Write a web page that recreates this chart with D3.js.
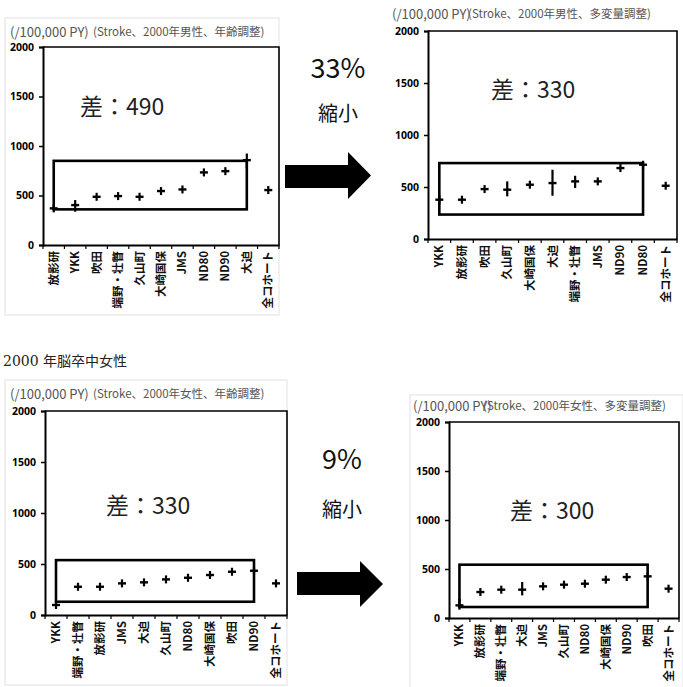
<!DOCTYPE html>
<html>
<head>
<meta charset="utf-8">
<script src="https://cdn.jsdelivr.net/npm/d3@7"></script>
<style>
  body { margin: 0; background: #fff; }
  svg text { font-family: "Noto Sans CJK JP", "Noto Sans", sans-serif; }
  svg .ytick text { font-family: "Noto Sans", "Liberation Sans", sans-serif; font-weight: 700; font-size: 10.5px; }
</style>
</head>
<body>
<svg id="chart"></svg>
<script>
// data
let yTicks = [0, 500, 1000, 1500, 2000];

// 男性 年齢調整
let cats1 = ["放影研", "YKK", "吹田", "端野・壮瞥", "久山町", "大崎国保", "JMS", "ND80", "ND90", "大迫", "全コホート"];
let vals1 = [370, 403, 487, 494, 487, 545, 561, 733, 746, 857, 555];
let lo1   = [370, 336, 487, 494, 487, 545, 561, 733, 746, 773, 555];
let hi1   = [370, 454, 487, 494, 487, 545, 561, 733, 746, 924, 555];
let box1  = [360, 850];

// 男性 多変量調整
let cats2 = ["YKK", "放影研", "吹田", "久山町", "大崎国保", "大迫", "端野・壮瞥", "JMS", "ND90", "ND80", "全コホート"];
let vals2 = [378, 378, 480, 474, 522, 538, 554, 554, 682, 714, 512];
let lo2   = [330, 378, 480, 410, 522, 416, 490, 554, 682, 666, 512];
let hi2   = [426, 378, 480, 554, 522, 666, 608, 554, 682, 746, 512];
let box2  = [235, 730];

// 女性 年齢調整
let cats3 = ["YKK", "端野・壮瞥", "放影研", "JMS", "大迫", "久山町", "ND80", "大崎国保", "吹田", "ND90", "全コホート"];
let vals3 = [98, 277, 277, 310, 320, 349, 365, 392, 424, 434, 310];
let lo3   = vals3;
let hi3   = vals3;
let box3  = [130, 538];

// 女性 多変量調整
let cats4 = ["YKK", "放影研", "端野・壮瞥", "大迫", "JMS", "久山町", "ND80", "大崎国保", "ND90", "吹田", "全コホート"];
let vals4 = [129, 265, 289, 289, 323, 340, 350, 391, 418, 425, 299];
let lo4   = [85, 265, 289, 231, 323, 340, 350, 391, 418, 425, 299];
let hi4   = [197, 265, 289, 367, 323, 340, 350, 391, 418, 425, 299];
let box4  = [112, 544];

let svg = d3.select("#chart").attr("width", 683).attr("height", 687);

function panel(p) {
  let x = d3.scaleBand().domain(p.cats).range([p.left, p.right]);
  let y = d3.scaleLinear().domain([0, 2000]).range([p.bottom, p.top]);
  let g = svg.append("g");

  // faint outer frame
  if (p.frame) {
    g.append("rect")
      .attr("x", p.frame[0]).attr("y", p.frame[1])
      .attr("width", p.frame[2] - p.frame[0]).attr("height", p.frame[3] - p.frame[1])
      .attr("fill", "none").attr("stroke", "#e2e2e2").attr("stroke-width", 1);
  }

  // plot area border (top and right)
  g.append("path")
    .attr("d", `M${p.left},${p.top}H${p.right}V${p.bottom}`)
    .attr("fill", "none").attr("stroke", "#000").attr("stroke-width", 1.6);

  // y axis
  let ya = g.append("g")
    .attr("class", "ytick")
    .attr("transform", `translate(${p.left},0)`)
    .call(d3.axisLeft(y).tickValues(yTicks).tickFormat(d3.format("d")).tickSize(4).tickPadding(5));
  ya.select(".domain").attr("stroke-width", 2);
  ya.selectAll("line").attr("stroke-width", 1.5);
  ya.selectAll("text").attr("fill", "#000");

  // x axis
  let xa = g.append("g")
    .attr("transform", `translate(0,${p.bottom})`)
    .call(d3.axisBottom(x).tickSize(0));
  xa.select(".domain").attr("stroke-width", 2);
  xa.selectAll(".tick text")
    .attr("transform", "rotate(-90)")
    .attr("text-anchor", "end")
    .attr("x", -6).attr("y", 0).attr("dy", "0.35em")
    .style("font-size", "11.5px").style("font-weight", "bold").attr("fill", "#111");
  // boundary ticks between categories
  g.selectAll(".bt").data(d3.range(p.cats.length + 1)).join("line")
    .attr("x1", i => p.left + i * x.bandwidth())
    .attr("x2", i => p.left + i * x.bandwidth())
    .attr("y1", p.bottom).attr("y2", p.bottom + 4)
    .attr("stroke", "#000").attr("stroke-width", 1.2);

  // box
  let cx = c => x(c) + x.bandwidth() / 2;
  g.append("rect")
    .attr("x", cx(p.cats[0])).attr("y", y(p.box[1]))
    .attr("width", cx(p.cats[9]) - cx(p.cats[0]))
    .attr("height", y(p.box[0]) - y(p.box[1]))
    .attr("fill", "none").attr("stroke", "#000").attr("stroke-width", 2.6);

  // crosses
  let pts = p.cats.map((c, i) => ({ c: c, v: p.vals[i], lo: p.lo[i], hi: p.hi[i] }));
  let mk = g.selectAll(".pt").data(pts).join("g");
  mk.append("line")
    .attr("x1", d => cx(d.c) - 4).attr("x2", d => cx(d.c) + 4)
    .attr("y1", d => y(d.v)).attr("y2", d => y(d.v))
    .attr("stroke", "#000").attr("stroke-width", 2.4);
  mk.append("line")
    .attr("x1", d => cx(d.c)).attr("x2", d => cx(d.c))
    .attr("y1", d => Math.min(y(d.hi), y(d.v) - 4))
    .attr("y2", d => Math.max(y(d.lo), y(d.v) + 4))
    .attr("stroke", "#000").attr("stroke-width", 2.2);

  // titles
  g.append("text").attr("x", p.unitX).attr("y", p.titleY)
    .style("font-size", "13px").attr("fill", "#555").text("(/100,000 PY)");
  g.append("text").attr("x", p.subX).attr("y", p.titleY - 1)
    .style("font-size", "11.5px").attr("fill", "#555").text(p.sub);

  // difference label
  g.append("text").attr("x", p.diffX).attr("y", p.diffY)
    .style("font-size", "23px").attr("fill", "#222").text(p.diff);
}

panel({ cats: cats1, vals: vals1, lo: lo1, hi: hi1, box: box1,
  left: 43, right: 279, top: 47, bottom: 245, frame: [5, 18, 279, 315],
  unitX: 10, subX: 93, titleY: 37, sub: "(Stroke、2000年男性、年齢調整)",
  diff: "差：490", diffX: 80, diffY: 115 });

panel({ cats: cats2, vals: vals2, lo: lo2, hi: hi2, box: box2,
  left: 428, right: 677, top: 31, bottom: 239, frame: null,
  unitX: 392, subX: 468, titleY: 19, sub: "(Stroke、2000年男性、多変量調整)",
  diff: "差：330", diffX: 491, diffY: 98 });

panel({ cats: cats3, vals: vals3, lo: lo3, hi: hi3, box: box3,
  left: 45, right: 287, top: 411, bottom: 615, frame: [5, 380, 287, 685],
  unitX: 10, subX: 93, titleY: 399, sub: "(Stroke、2000年女性、年齢調整)",
  diff: "差：330", diffX: 106, diffY: 514 });

panel({ cats: cats4, vals: vals4, lo: lo4, hi: hi4, box: box4,
  left: 449, right: 679, top: 422, bottom: 618, frame: [410, 395, 683, 690],
  unitX: 413, subX: 483, titleY: 411, sub: "(Stroke、2000年女性、多変量調整)",
  diff: "差：300", diffX: 510, diffY: 519 });

// heading of the lower row
svg.append("text").attr("x", 3).attr("y", 366)
  .style("font-family", "'DejaVu Serif', 'Noto Sans CJK JP', serif")
  .style("font-size", "14px").attr("fill", "#222").text("2000 年脳卒中女性");

// arrows with reduction labels
let arrows = [
  { pct: "33%", pctY: 78, wordY: 121, cx: 338, x0: 285, x1: 348, x2: 371, sy0: 165, sy1: 188, hy0: 152, hy1: 199 },
  { pct: "9%", pctY: 469, wordY: 517, cx: 342, x0: 297, x1: 360, x2: 383, sy0: 572, sy1: 595, hy0: 561, hy1: 607 }
];
arrows.forEach(a => {
  let mid = (a.hy0 + a.hy1) / 2;
  let path = d3.path();
  path.moveTo(a.x0, a.sy0);
  path.lineTo(a.x1, a.sy0);
  path.lineTo(a.x1, a.hy0);
  path.lineTo(a.x2, mid);
  path.lineTo(a.x1, a.hy1);
  path.lineTo(a.x1, a.sy1);
  path.lineTo(a.x0, a.sy1);
  path.closePath();
  svg.append("path").attr("d", path.toString()).attr("fill", "#000");
  svg.append("text").attr("x", a.cx).attr("y", a.pctY).attr("text-anchor", "middle")
    .style("font-size", "27px").attr("fill", "#111").text(a.pct);
  svg.append("text").attr("x", a.cx).attr("y", a.wordY).attr("text-anchor", "middle")
    .style("font-size", "20px").attr("fill", "#111").text("縮小");
});
</script>
</body>
</html>
